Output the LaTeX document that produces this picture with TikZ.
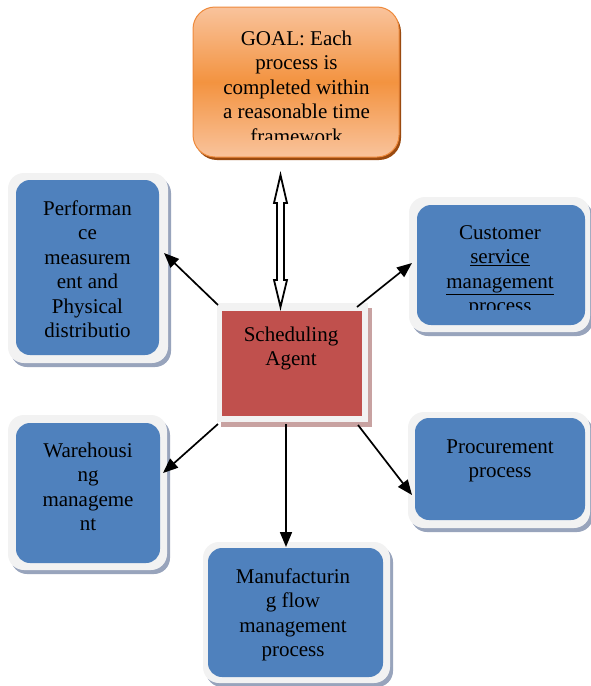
\documentclass[tikz,border=0pt]{standalone}
\usepackage{fontspec}
\setmainfont{Liberation Serif}
\usetikzlibrary{arrows.meta,shadows}

\definecolor{boxblue}{HTML}{4F81BD}
\definecolor{framegray}{HTML}{F2F2F2}
\definecolor{shadeblue}{HTML}{98A4BC}
\definecolor{agentred}{HTML}{C0504D}
\definecolor{agentshade}{HTML}{C8A2A1}
\definecolor{goallight}{HTML}{F9C39C}
\definecolor{goalmid}{HTML}{F39340}
\definecolor{goaledge}{HTML}{EE8A3C}
\definecolor{goalshade}{HTML}{9A4A10}

\tikzset{
  framebox/.style={fill=framegray, rounded corners=16pt, inner sep=0pt,
    drop shadow={shadow xshift=3pt, shadow yshift=-4pt, fill=shadeblue, opacity=1}},
  bluebox/.style={fill=boxblue, rounded corners=14pt, inner sep=0pt},
  agentframe/.style={fill=framegray, inner sep=0pt,
    drop shadow={shadow xshift=4pt, shadow yshift=-5pt, fill=agentshade, opacity=1}},
  agentbox/.style={fill=agentred, inner sep=0pt},
  goalbox/.style={rounded corners=22pt, inner sep=0pt, draw=goaledge, line width=1pt,
    top color=goallight, bottom color=goallight, middle color=goalmid,
    drop shadow={shadow xshift=2pt, shadow yshift=-3pt, fill=goalshade, opacity=1}},
  boxtext/.style={anchor=base, inner sep=0pt, font=\fontsize{21}{24.5}\selectfont},
  link/.style={line width=1.7pt, -{Triangle[length=15pt,width=12pt]}},
  hollow/.style={line width=1.8pt, fill=white, line join=miter}
}

\newcommand{\linesbox}[1]{\parbox[t]{200pt}{\centering #1}}

\begin{document}
\begin{tikzpicture}[x=1pt,y=-1pt]
\useasboundingbox[fill=white] (0,0) rectangle (590,686);

% goal box
\node[goalbox, minimum width=206pt, minimum height=150pt] (goal) at (296,82) {};
\begin{scope}
  \clip (193,7) rectangle (399,139);
  \node[boxtext] (goaltext) at (296.5,45)
    {\linesbox{GOAL: Each\\process is\\completed within\\a reasonable time\\framework}};
\end{scope}

% performance measurement
\node[framebox, minimum width=160pt, minimum height=190pt] (perfF) at (88,268) {};
\node[bluebox, minimum width=143pt, minimum height=175pt] (perf) at (87.5,267.5) {};
\node[boxtext] (perfT) at (87.5,215)
  {\linesbox{Performan\\ce\\measurem\\ent and\\Physical\\distributio}};

% customer service
\node[framebox, minimum width=181pt, minimum height=135pt] (custF) at (499.5,264.5) {};
\node[bluebox, minimum width=168pt, minimum height=120pt] (cust) at (501,265) {};
\begin{scope}
  \clip (417,205) rectangle (585,309);
  \node[boxtext] (custT) at (500,239)
    {\linesbox{Customer\\\underline{service}\\\underline{management}\\process}};
\end{scope}

% warehousing
\node[framebox, minimum width=159pt, minimum height=155pt] (wareF) at (87.5,492.5) {};
\node[bluebox, minimum width=144pt, minimum height=140pt] (ware) at (88,493) {};
\node[boxtext] (wareT) at (88,457)
  {\linesbox{Warehousi\\ng\\manageme\\nt}};

% procurement
\node[framebox, minimum width=182pt, minimum height=116pt] (procF) at (499,470) {};
\node[bluebox, minimum width=170pt, minimum height=102pt] (proc) at (500,469) {};
\node[boxtext] (procT) at (500,453)
  {\linesbox{Procurement\\process}};

% manufacturing flow
\node[framebox, minimum width=187pt, minimum height=141pt] (manuF) at (296.5,612.5) {};
\node[bluebox, minimum width=175pt, minimum height=129pt] (manu) at (295.5,612.5) {};
\node[boxtext] (manuT) at (293,583)
  {\linesbox{Manufacturin\\g flow\\management\\process}};

% scheduling agent
\node[agentframe, minimum width=151pt, minimum height=119pt] (agentF) at (292.5,362.5) {};
\node[agentbox, minimum width=140pt, minimum height=105pt] (agent) at (292,363.5) {};
\node[boxtext] (agentT) at (291,341)
  {\linesbox{Scheduling\\Agent}};

% connector end points
\coordinate (s1) at (218,305);  \coordinate (e1) at (164,253);
\coordinate (s2) at (357,307);  \coordinate (e2) at (412,263);
\coordinate (s3) at (218,424);  \coordinate (e3) at (163,473);
\coordinate (s4) at (286,424);  \coordinate (e4) at (286,547);
\coordinate (s5) at (358,425);  \coordinate (e5) at (412,495);

\draw[link] (s1) -- (e1);
\draw[link] (s2) -- (e2);
\draw[link] (s3) -- (e3);
\draw[link] (s4) -- (e4);
\draw[link] (s5) -- (e5);

% two-headed hollow arrow between goal and agent
\coordinate (dtop) at (280.5,175);
\coordinate (dbot) at (280.5,307);
\draw[hollow] (dtop) -- ++(6.5,28) -- ++(-3,0) -- ++(0,77) -- ++(3,0)
  -- (dbot) -- ++(-6.5,-27) -- ++(3,0) -- ++(0,-77) -- ++(-3,0) -- cycle;
\end{tikzpicture}
\end{document}
